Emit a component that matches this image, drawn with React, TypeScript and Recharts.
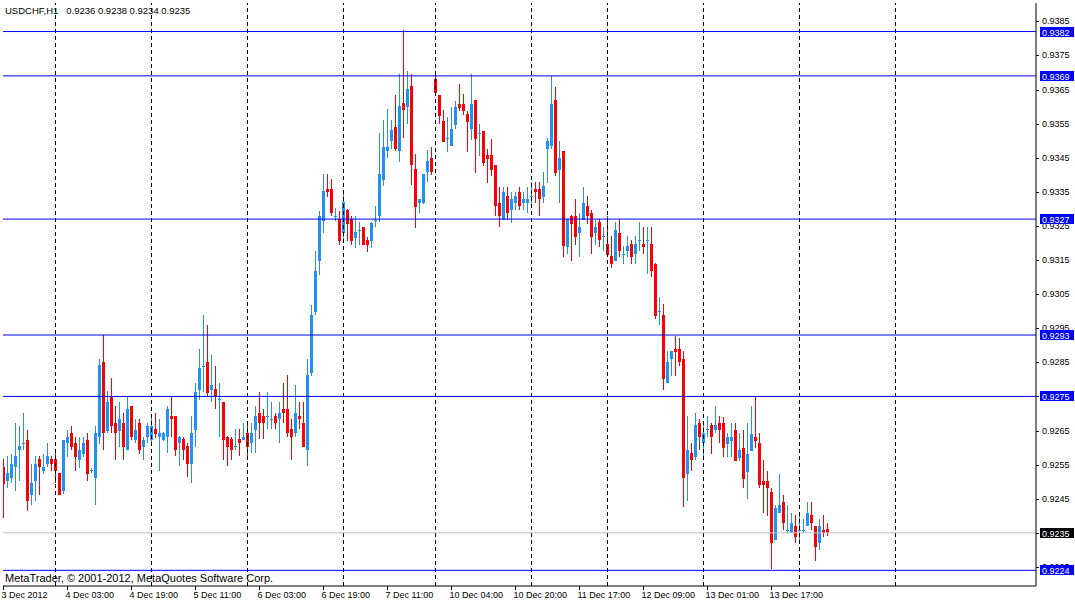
import React from "react";
import { ComposedChart, Bar, XAxis, YAxis, ReferenceLine } from "recharts";

// USDCHF H1 candles
const OPEN = [
  0.92544, 0.92502, 0.92512, 0.92544, 0.92592, 0.92613, 0.92623, 0.92461, 0.92502, 0.92565,
  0.92531, 0.92552, 0.92565, 0.92565, 0.92524, 0.92473, 0.92612, 0.92643, 0.92613, 0.92563,
  0.92581, 0.92623, 0.92532, 0.92512, 0.9263, 0.92852, 0.9265, 0.92749, 0.92673, 0.9265,
  0.92673, 0.92592, 0.92722, 0.92621, 0.92673, 0.92602, 0.9263, 0.92622, 0.92653, 0.92632,
  0.92622, 0.92632, 0.92693, 0.92693, 0.92613, 0.92624, 0.92604, 0.92553, 0.92651, 0.92769,
  0.92839, 0.92852, 0.92769, 0.92771, 0.92742, 0.92733, 0.92632, 0.92624, 0.92603, 0.92624,
  0.92622, 0.92643, 0.92613, 0.92651, 0.92702, 0.92693, 0.92693, 0.92683, 0.92693, 0.92683,
  0.92713, 0.92713, 0.92653, 0.92643, 0.92693, 0.92673, 0.92593, 0.92819, 0.92997, 0.93147,
  0.93265, 0.93359, 0.93359, 0.93278, 0.9327, 0.93228, 0.93298, 0.9327, 0.93216, 0.93238,
  0.93247, 0.93209, 0.93206, 0.93267, 0.93278, 0.93386, 0.93469, 0.93499, 0.93541, 0.93469,
  0.9361, 0.936, 0.93661, 0.93418, 0.93316, 0.93316, 0.93408, 0.9345, 0.93682, 0.93633,
  0.93557, 0.93506, 0.93484, 0.93545, 0.93607, 0.93607, 0.93578, 0.93535, 0.93618, 0.9352,
  0.93528, 0.93458, 0.93458, 0.93428, 0.93317, 0.93267, 0.93338, 0.93297, 0.93317, 0.9335,
  0.93317, 0.93317, 0.93338, 0.93359, 0.93359, 0.93336, 0.93477, 0.93484, 0.93618, 0.93414,
  0.93469, 0.93187, 0.9328, 0.9328, 0.93228, 0.93267, 0.93307, 0.93288, 0.93228, 0.9326,
  0.93219, 0.93197, 0.93161, 0.93147, 0.93229, 0.93168, 0.93176, 0.93197, 0.93168, 0.93209,
  0.93197, 0.93209, 0.93197, 0.93139, 0.92999, 0.92989, 0.92789, 0.9286, 0.9289, 0.9289,
  0.92861, 0.92522, 0.92583, 0.92571, 0.92673, 0.92612, 0.92652, 0.92665, 0.92652, 0.92673,
  0.92672, 0.9261, 0.9262, 0.92652, 0.92569, 0.926, 0.92527, 0.9259, 0.92631, 0.92612,
  0.92502, 0.92502, 0.92471, 0.92329, 0.92409, 0.92441, 0.92358, 0.9235, 0.9237, 0.92358,
  0.92358, 0.9237, 0.92401, 0.9237, 0.92319, 0.92358, 0.9236,
];

const HIGH = [
  0.92565, 0.92574, 0.92582, 0.92673, 0.92664, 0.92702, 0.92652, 0.92553, 0.92574, 0.92574,
  0.92582, 0.92613, 0.92574, 0.92594, 0.92526, 0.92623, 0.92652, 0.92664, 0.92632, 0.92632,
  0.92632, 0.92643, 0.9254, 0.92664, 0.92861, 0.9293, 0.92765, 0.92803, 0.92722, 0.92733,
  0.92702, 0.92749, 0.92723, 0.92684, 0.92684, 0.92632, 0.92673, 0.92693, 0.92701, 0.92685,
  0.92645, 0.92721, 0.9275, 0.92694, 0.92633, 0.92632, 0.92613, 0.92693, 0.9279, 0.9289,
  0.92988, 0.92959, 0.92872, 0.9284, 0.9279, 0.92734, 0.92633, 0.92632, 0.92653, 0.92653,
  0.92673, 0.92665, 0.92673, 0.92721, 0.92762, 0.92713, 0.92762, 0.92733, 0.92702, 0.92733,
  0.9279, 0.92812, 0.92685, 0.92783, 0.92733, 0.92733, 0.9286, 0.93019, 0.93176, 0.93295,
  0.93401, 0.93401, 0.93388, 0.93302, 0.93295, 0.93351, 0.93299, 0.93278, 0.93278, 0.9326,
  0.93248, 0.93218, 0.9326, 0.93309, 0.93521, 0.93561, 0.93593, 0.93561, 0.93633, 0.93696,
  0.93824, 0.93704, 0.93696, 0.9346, 0.9333, 0.93402, 0.93472, 0.9348, 0.93696, 0.93634,
  0.93591, 0.93568, 0.93598, 0.93617, 0.93667, 0.93638, 0.93588, 0.93696, 0.93619, 0.93549,
  0.93529, 0.93477, 0.93506, 0.93429, 0.93365, 0.93365, 0.93365, 0.9335, 0.9335, 0.93365,
  0.9335, 0.93365, 0.93379, 0.93379, 0.93379, 0.93408, 0.93508, 0.9369, 0.93656, 0.93498,
  0.9347, 0.93271, 0.93281, 0.9333, 0.93289, 0.93365, 0.93338, 0.93297, 0.93267, 0.9327,
  0.93248, 0.9328, 0.93219, 0.9326, 0.9327, 0.9319, 0.93219, 0.93209, 0.93219, 0.9326,
  0.93248, 0.93248, 0.93248, 0.9314, 0.93041, 0.93021, 0.92883, 0.92884, 0.92928, 0.92921,
  0.92883, 0.92694, 0.92614, 0.92702, 0.92684, 0.92673, 0.92694, 0.92673, 0.92723, 0.92694,
  0.92691, 0.92644, 0.92672, 0.92672, 0.92644, 0.92652, 0.92672, 0.92723, 0.9275, 0.92644,
  0.92563, 0.9253, 0.9248, 0.92432, 0.92522, 0.92461, 0.92432, 0.92409, 0.92401, 0.92401,
  0.92391, 0.92441, 0.92441, 0.92371, 0.92391, 0.92401, 0.9238,
];

const LOW = [
  0.92394, 0.92482, 0.92495, 0.92473, 0.92502, 0.92592, 0.92413, 0.92432, 0.92444, 0.92461,
  0.92522, 0.92544, 0.92531, 0.92495, 0.9246, 0.92463, 0.92573, 0.92592, 0.92531, 0.92541,
  0.92573, 0.92502, 0.92525, 0.92432, 0.9261, 0.92592, 0.92642, 0.92642, 0.92563, 0.92602,
  0.92563, 0.92592, 0.92621, 0.92612, 0.92581, 0.92563, 0.92612, 0.92612, 0.92629, 0.92532,
  0.9262, 0.92584, 0.92632, 0.92574, 0.92545, 0.92564, 0.92513, 0.92497, 0.92603, 0.9274,
  0.92762, 0.92752, 0.92733, 0.92712, 0.92632, 0.92564, 0.92545, 0.92564, 0.92593, 0.92574,
  0.92621, 0.92564, 0.92584, 0.92584, 0.92624, 0.92624, 0.92653, 0.92654, 0.92653, 0.92613,
  0.92673, 0.92632, 0.92564, 0.92632, 0.92653, 0.92602, 0.92545, 0.9281, 0.9299, 0.93107,
  0.93228, 0.93336, 0.93278, 0.93265, 0.93194, 0.93206, 0.93206, 0.93194, 0.93186, 0.93194,
  0.93193, 0.93174, 0.93186, 0.93247, 0.9326, 0.93367, 0.93449, 0.93477, 0.93469, 0.93438,
  0.93507, 0.93548, 0.93369, 0.93245, 0.93287, 0.93315, 0.93378, 0.93398, 0.93633, 0.93549,
  0.93496, 0.93467, 0.93483, 0.93535, 0.93586, 0.93576, 0.93467, 0.93503, 0.93406, 0.93455,
  0.93426, 0.93377, 0.93396, 0.93278, 0.93246, 0.93266, 0.93267, 0.93258, 0.93297, 0.93297,
  0.93297, 0.93288, 0.93307, 0.93317, 0.93278, 0.93317, 0.93377, 0.93477, 0.93396, 0.93317,
  0.93158, 0.93168, 0.93148, 0.93194, 0.93158, 0.93266, 0.93257, 0.93168, 0.93194, 0.93188,
  0.93176, 0.93159, 0.93127, 0.93146, 0.93159, 0.93137, 0.93159, 0.93137, 0.93137, 0.93176,
  0.93168, 0.93108, 0.93099, 0.92978, 0.92958, 0.92769, 0.92788, 0.9281, 0.9281, 0.92839,
  0.92425, 0.92444, 0.92531, 0.92563, 0.92592, 0.92563, 0.92631, 0.92581, 0.92644, 0.92612,
  0.92571, 0.92571, 0.92571, 0.9256, 0.92561, 0.9248, 0.92448, 0.92589, 0.92598, 0.9248,
  0.92409, 0.92399, 0.92245, 0.92328, 0.92408, 0.92358, 0.9235, 0.92349, 0.92319, 0.92319,
  0.9235, 0.92369, 0.92358, 0.92267, 0.92299, 0.92338, 0.9234,
];

const CLOSE = [
  0.92492, 0.92524, 0.92553, 0.92574, 0.92604, 0.92614, 0.92444, 0.92495, 0.92553, 0.92544,
  0.92544, 0.92574, 0.92552, 0.92531, 0.92461, 0.92623, 0.92632, 0.92602, 0.92571, 0.92594,
  0.92613, 0.92522, 0.92533, 0.92643, 0.92841, 0.92642, 0.92733, 0.92662, 0.92642, 0.92684,
  0.92602, 0.92713, 0.9263, 0.92652, 0.92592, 0.92623, 0.92664, 0.92664, 0.92641, 0.92643,
  0.92643, 0.92713, 0.92683, 0.92593, 0.92632, 0.92593, 0.92553, 0.92643, 0.92762, 0.92832,
  0.9284, 0.9276, 0.92783, 0.92752, 0.92743, 0.92622, 0.92603, 0.92593, 0.92604, 0.92613,
  0.92632, 0.92603, 0.92643, 0.92693, 0.92673, 0.92673, 0.92694, 0.92685, 0.92673, 0.92702,
  0.92702, 0.92643, 0.92632, 0.92702, 0.92683, 0.92603, 0.92812, 0.92988, 0.93117, 0.9328,
  0.93351, 0.93349, 0.93287, 0.93279, 0.93206, 0.93319, 0.93257, 0.93206, 0.93231, 0.93239,
  0.93194, 0.93194, 0.93258, 0.93268, 0.93401, 0.9348, 0.9348, 0.93531, 0.93477, 0.93603,
  0.9359, 0.93652, 0.93428, 0.93306, 0.93329, 0.93401, 0.9344, 0.93408, 0.9364, 0.93571,
  0.93497, 0.93507, 0.93535, 0.93598, 0.93596, 0.93586, 0.93555, 0.93607, 0.93506, 0.93521,
  0.93435, 0.93447, 0.93414, 0.93307, 0.93278, 0.9335, 0.93288, 0.9333, 0.93338, 0.93307,
  0.9333, 0.9333, 0.93339, 0.9335, 0.93328, 0.93367, 0.93498, 0.93607, 0.93406, 0.93448,
  0.93192, 0.9327, 0.93257, 0.93217, 0.93248, 0.93317, 0.93278, 0.93217, 0.93248, 0.93209,
  0.9322, 0.93166, 0.93139, 0.93239, 0.93176, 0.93169, 0.9319, 0.93159, 0.93197, 0.9321,
  0.93188, 0.9321, 0.93118, 0.92987, 0.93, 0.92802, 0.92852, 0.92883, 0.9288, 0.92852,
  0.9251, 0.92594, 0.92563, 0.92665, 0.92631, 0.92644, 0.92653, 0.92631, 0.92665, 0.92652,
  0.926, 0.9263, 0.9263, 0.92561, 0.92592, 0.92507, 0.9258, 0.92641, 0.9262, 0.9249,
  0.9249, 0.9248, 0.92319, 0.92422, 0.92432, 0.92378, 0.92359, 0.9238, 0.92338, 0.92359,
  0.92359, 0.92409, 0.92378, 0.92308, 0.9237, 0.9235, 0.9235,
];

// bottom axis: one label every 16 bars
const TIME_TICKS = [0, 16, 32, 48, 64, 80, 96, 112, 128, 144, 160, 176, 192];
const TIME_LABELS = [
  "3 Dec 2012",
  "4 Dec 03:00",
  "4 Dec 19:00",
  "5 Dec 11:00",
  "6 Dec 03:00",
  "6 Dec 19:00",
  "7 Dec 11:00",
  "10 Dec 04:00",
  "10 Dec 20:00",
  "11 Dec 17:00",
  "12 Dec 09:00",
  "13 Dec 01:00",
  "13 Dec 17:00",
];

// bars where a new day starts (dotted separators)
const DAY_BREAKS = [13, 37, 61, 85, 108, 132, 151, 175, 199, 223];

const PRICE_TICKS = [
  0.9225, 0.9235, 0.9245, 0.9255, 0.9265, 0.9275, 0.9285, 0.9295, 0.9305,
  0.9315, 0.9325, 0.9335, 0.9345, 0.9355, 0.9365, 0.9375, 0.9385,
];

const LEVELS = [0.9382, 0.9369, 0.9327, 0.9293, 0.9275, 0.9224];
const BID = 0.9235;

const SYMBOL = "USDCHF,H1";
const LAST_BAR = ["0.9236", "0.9238", "0.9234", "0.9235"];

const BULL = "#1e90ff";
const BEAR = "#ff0000";
const LEVEL_BLUE = "#0000ff";
const FONT = '"Liberation Sans", Arial, sans-serif';
const PRICE_DOMAIN = [0.92194, 0.939037];

// plain price labels first, tags last so the tags paint over them
const AXIS_TICKS = [...PRICE_TICKS, BID, ...LEVELS];
const TAG_START = PRICE_TICKS.length;

const rows = OPEN.map((open, i) => ({
  idx: i,
  open,
  high: HIGH[i],
  low: LOW[i],
  close: CLOSE[i],
  range: [LOW[i], HIGH[i]],
}));

function Candle(props: any) {
  const { x, y, width, height, payload } = props;
  if (x == null || y == null || !payload) return null;
  const top = Math.min(y, y + height);
  const bottom = Math.max(y, y + height);
  const span = payload.high - payload.low || 1e-9;
  const toY = (v: number) => top + ((payload.high - v) / span) * (bottom - top);
  // snap to the pixel grid so 1px wicks stay crisp
  const cx = Math.round(x + width / 2 - 0.5) + 0.5;
  const color = payload.close > payload.open ? BULL : BEAR;
  const yo = toY(payload.open);
  const yc = toY(payload.close);
  const bTop = Math.round(Math.min(yo, yc));
  let bBot = Math.round(Math.max(yo, yc));
  if (bBot - bTop < 1) bBot = bTop + 1;
  const wTop = Math.round(top);
  const wBot = Math.max(Math.round(bottom), wTop + 1);
  return (
    <g shapeRendering="crispEdges">
      <rect x={cx - 0.5} y={wTop} width={1} height={wBot - wTop} fill={color} />
      <rect x={cx - 1.5} y={bTop} width={3} height={bBot - bTop} fill={color} />
    </g>
  );
}

function TimeTick(props: any) {
  const { x, payload } = props;
  const i = TIME_TICKS.indexOf(payload.value);
  return (
    <text x={x - 2} y={598} fontSize={9} fontFamily={FONT} fill="#000" textAnchor="start">
      {TIME_LABELS[i]}
    </text>
  );
}

function PriceTick(props: any) {
  const { x, y, payload, index } = props;
  const v = Number(payload.value);
  const cy = Math.round(y);
  if (index >= TAG_START) {
    const bg = v === BID ? "#000" : LEVEL_BLUE;
    return (
      <g>
        <rect x={x - 2} y={cy - 5} width={34} height={10} fill={bg} />
        <text x={x} y={cy + 3.5} fontSize={9} fontFamily={FONT} fill="#fff">
          {v.toFixed(4)}
        </text>
      </g>
    );
  }
  return (
    <g>
      <line x1={x - 6} x2={x - 3} y1={cy + 0.5} y2={cy + 0.5} stroke="#000" />
      <text x={x} y={cy + 3} fontSize={9} fontFamily={FONT} fill="#000">
        {v.toFixed(4)}
      </text>
    </g>
  );
}

export default function App() {
  return (
    <div
      style={{
        position: "absolute",
        left: 0,
        top: 0,
        width: 1075,
        height: 602,
        background: "#fff",
        fontFamily: FONT,
      }}
    >
      <ComposedChart
        width={1075}
        height={602}
        data={rows}
        margin={{ top: 3, right: 0, bottom: 0, left: 3 }}
      >
        <XAxis
          dataKey="idx"
          type="number"
          domain={[-0.125, 258.125]}
          allowDataOverflow
          ticks={TIME_TICKS}
          interval={0}
          height={16}
          tickSize={4}
          axisLine={{ stroke: "#000" }}
          tickLine={{ stroke: "#000" }}
          tick={<TimeTick />}
        />
        <XAxis
          xAxisId="edge"
          orientation="top"
          type="number"
          domain={[0, 1]}
          height={0}
          tick={false}
          tickLine={false}
          axisLine={{ stroke: "#000" }}
        />
        <YAxis
          orientation="right"
          type="number"
          domain={PRICE_DOMAIN}
          allowDataOverflow
          ticks={AXIS_TICKS}
          interval={0}
          width={39}
          tickSize={3}
          tickMargin={3}
          axisLine={{ stroke: "#000" }}
          tickLine={false}
          tick={<PriceTick />}
        />
        <YAxis
          yAxisId="edge"
          orientation="left"
          type="number"
          domain={[0, 1]}
          width={0}
          tick={false}
          tickLine={false}
          axisLine={{ stroke: "#000" }}
        />
        {DAY_BREAKS.map((d) => (
          <ReferenceLine key={`d${d}`} x={d} stroke="#000" strokeDasharray="4 3" />
        ))}
        <Bar dataKey="range" barSize={3} shape={<Candle />} isAnimationActive={false} />
        <ReferenceLine y={BID} stroke="#c0c0c0" />
        {LEVELS.map((lv) => (
          <ReferenceLine key={`l${lv}`} y={lv} stroke={LEVEL_BLUE} />
        ))}
      </ComposedChart>
      <div
        style={{
          position: "absolute",
          left: 5,
          top: 4.5,
          fontSize: 9.5,
          lineHeight: "11px",
          color: "#000",
          whiteSpace: "pre",
        }}
      >
        {SYMBOL + "   " + LAST_BAR.join(" ")}
      </div>
      <div
        style={{
          position: "absolute",
          left: 5,
          top: 571.5,
          fontSize: 11,
          lineHeight: "12px",
          color: "#000",
          whiteSpace: "pre",
        }}
      >
        MetaTrader, © 2001-2012, MetaQuotes Software Corp.
      </div>
    </div>
  );
}
